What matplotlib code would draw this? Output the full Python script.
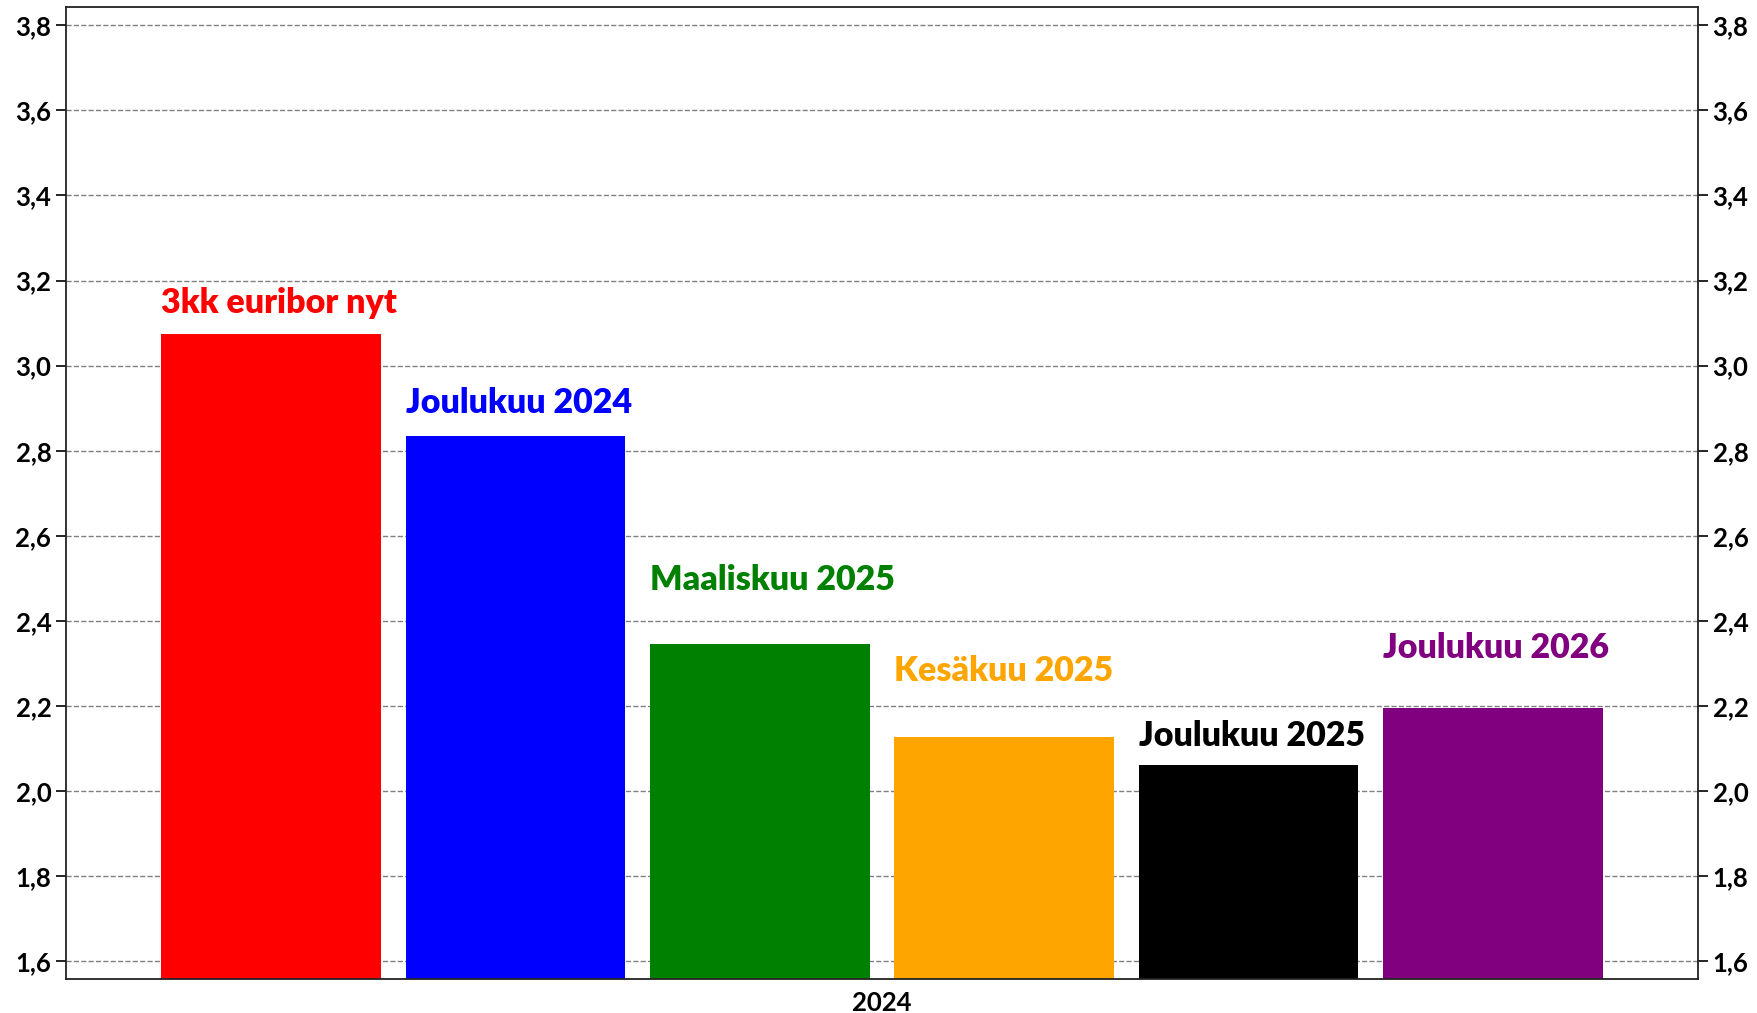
import numpy as np
import matplotlib.pyplot as plt
from matplotlib.ticker import FuncFormatter

# data
labels = ["3kk euribor nyt", "Joulukuu 2024", "Maaliskuu 2025",
          "Kesäkuu 2025", "Joulukuu 2025", "Joulukuu 2026"]
values = [3.074, 2.834, 2.345, 2.126, 2.061, 2.195]
colors = ["red", "blue", "green", "orange", "black", "purple"]
label_y = [3.147, 2.913, 2.495, 2.282, 2.129, 2.337]
group = "2024"

plt.rcParams['font.family'] = ['Lato', 'DejaVu Sans']
plt.rcParams['font.weight'] = 'bold'

fig = plt.figure(figsize=(17.58, 10.13), dpi=100)
ax = fig.add_axes([0.0375, 0.0336, 0.9284, 0.9595])

x = np.arange(len(values))
w = 0.9
ax.bar(x, values, width=w, color=colors, zorder=2)

for xi, lab, ly, c in zip(x, labels, label_y, colors):
    ax.text(xi - w / 2, ly, lab, color=c, fontsize=24.5, fontweight='heavy',
            ha='left', va='center', zorder=3)

ax.set_xlim(-0.84, 5.84)
ax.set_ylim(1.558, 3.843)
ax.set_yticks(np.arange(1.6, 3.81, 0.2))
ax.yaxis.set_major_formatter(FuncFormatter(lambda v, p: f"{v:.1f}".replace('.', ',')))
ax.set_xticks([2.5])
ax.set_xticklabels([group])
ax.tick_params(axis='x', length=0, labelsize=18.5, pad=9)
ax.tick_params(axis='y', right=True, labelright=True, labelsize=18.5,
               length=7, width=1.2, direction='out')
ax.grid(axis='y', linestyle='--', color='gray', linewidth=1, zorder=0)
ax.set_axisbelow(True)
for s in ax.spines.values():
    s.set_linewidth(1.3)
    s.set_color('#222222')

fig.savefig("out.png", dpi=100)
